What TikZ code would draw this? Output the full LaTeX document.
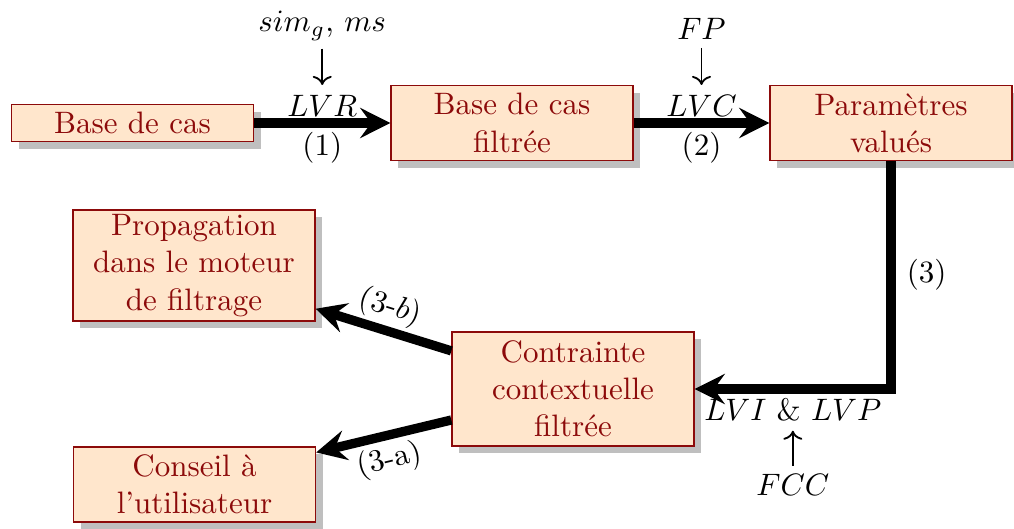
\documentclass[tikz,border=0pt]{standalone}
\usetikzlibrary{arrows.meta,shadows,positioning}
\definecolor{boxfill}{RGB}{255,230,204}
\definecolor{boxline}{RGB}{140,10,10}
\tikzset{
  stage/.style={draw=boxline, fill=boxfill, text=boxline, align=center,
    minimum width=78pt, inner xsep=2pt, inner ysep=1pt, line width=0.5pt,
    drop shadow={shadow xshift=2.3pt, shadow yshift=-2.3pt, opacity=1, fill=black!25}},
  flow/.style={line width=3pt, -{Stealth[length=9.7pt,width=9.7pt,inset=3.5pt]}},
  feed/.style={semithick, ->, shorten <=-1pt, shorten >=-1.6pt},
  over/.style={anchor=base, yshift=2.2pt},
  under/.style={anchor=base, yshift=-10.4pt},
}
\begin{document}
\begin{tikzpicture}[x=0.32258pt, y=-0.32258pt]
  \useasboundingbox (0,0) rectangle (1014,528);

  % processing stages
  \node[stage, minimum height=12pt]   (b1) at (132.5,123) {Base de cas};
  \node[stage, minimum height=24.2pt] (b2) at (512,123)   {Base de cas\\filtrée};
  \node[stage, minimum height=24.2pt] (b3) at (891,123)   {Paramètres\\valués};
  \node[stage, minimum height=35.8pt] (b4) at (194,265.5) {Propagation\\dans le moteur\\de filtrage};
  \node[stage, minimum height=36.8pt] (b5) at (573,389)   {Contrainte\\contextuelle\\filtrée};
  \node[stage, minimum height=24.2pt] (b6) at (194.5,484.5) {Conseil à\\l'utilisateur};

  % step (1)
  \draw[flow] (b1.east) -- (b2.west)
    node[midway, over] (lvr) {$LVR$}
    node[midway, under] (one) {(1)};
  \node[anchor=base] (sim) at ([yshift=27.2pt]lvr.base) {$sim_g$, $ms$};
  \draw[feed] (sim) -- (lvr);

  % step (2)
  \draw[flow] (b2.east) -- (b3.west)
    node[midway, over] (lvc) {$LVC$}
    node[midway, under] (two) {(2)};
  \node[anchor=base] (fp) at ([yshift=24.6pt]lvc.base) {$FP$};
  \draw[feed] (fp) -- (lvc);

  % step (3)
  \draw[flow] (b3.south) |- (b5.east)
    node[pos=0.25, right=0.3pt] (three) {(3)}
    node[pos=0.75, anchor=base, yshift=-10pt] (lvi) {$LVI$ \& $LVP$};
  \node[anchor=base] (fcc) at ([yshift=-24.2pt]lvi.base) {$FCC$};
  \draw[feed] (fcc) -- (lvi);

  % steps (3-a) and (3-b)
  \draw[flow] ([yshift=12.3pt]b5.west) -- ([yshift=4.2pt]b4.south east)
    node[midway, above, sloped, inner sep=1pt] (tb) {(3-$b$)};
  \draw[flow] ([yshift=-10pt]b5.west) -- ([yshift=-2pt]b6.north east)
    node[midway, below, sloped, inner sep=1.5pt] (ta) {(3-a)};
\end{tikzpicture}
\end{document}
